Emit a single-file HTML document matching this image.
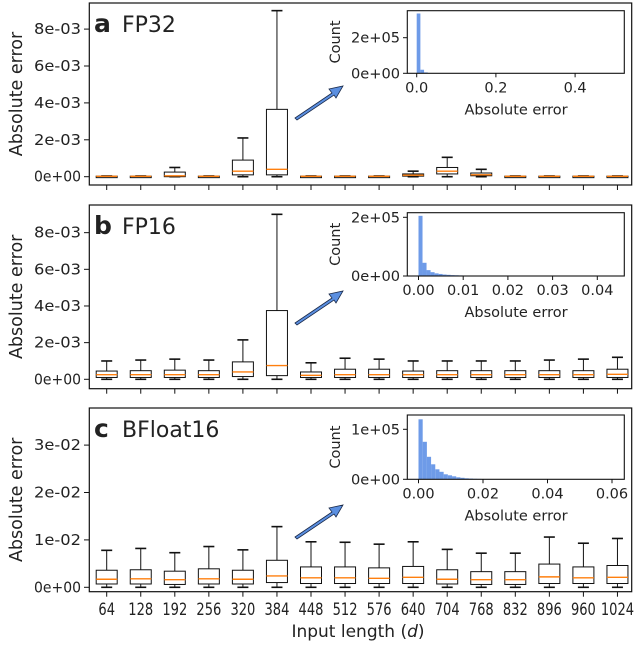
<!DOCTYPE html>
<html><head><meta charset="utf-8"><style>
html,body{margin:0;padding:0;background:#fff}
svg text{font-family:"DejaVu Sans","Liberation Sans",sans-serif;fill:#222}
</style></head><body>
<svg id="fig" width="640" height="642" xmlns="http://www.w3.org/2000/svg"></svg>
<script>
const categories=[64,128,192,256,320,384,448,512,576,640,704,768,832,896,960,1024];
// panel a (units 1e-3): q1, med, q3, hi
const aQ1=[0.01,0.01,0.0,0.01,0.1,0.1,0.01,0.01,0.01,0.03,0.15,0.05,0.01,0.01,0.01,0.01];
const aMed=[0.02,0.02,0.05,0.02,0.3,0.4,0.02,0.02,0.02,0.08,0.3,0.1,0.02,0.02,0.02,0.02];
const aQ3=[0.03,0.03,0.25,0.03,0.9,3.65,0.03,0.03,0.03,0.15,0.5,0.2,0.03,0.03,0.03,0.03];
const aHi=[0.04,0.04,0.5,0.04,2.1,9.0,0.04,0.04,0.04,0.3,1.05,0.4,0.04,0.04,0.04,0.04];
// panel b (units 1e-3)
const bQ1=[0.1,0.1,0.1,0.1,0.15,0.2,0.1,0.1,0.1,0.1,0.1,0.1,0.1,0.1,0.1,0.1];
const bMed=[0.25,0.25,0.25,0.25,0.4,0.75,0.22,0.25,0.25,0.25,0.25,0.25,0.25,0.25,0.25,0.27];
const bQ3=[0.45,0.47,0.5,0.47,0.95,3.75,0.4,0.55,0.55,0.45,0.47,0.47,0.47,0.47,0.47,0.55];
const bHi=[1.0,1.05,1.1,1.05,2.15,9.0,0.9,1.15,1.1,1.0,1.0,1.0,1.0,1.05,1.1,1.2];
// panel c (units 1e-2)
const cQ1=[0.07,0.07,0.06,0.07,0.07,0.1,0.08,0.08,0.08,0.08,0.07,0.06,0.06,0.08,0.08,0.08];
const cMed=[0.17,0.18,0.16,0.18,0.17,0.24,0.2,0.2,0.19,0.21,0.17,0.16,0.16,0.22,0.2,0.21];
const cQ3=[0.36,0.37,0.34,0.39,0.36,0.57,0.43,0.43,0.41,0.44,0.37,0.33,0.33,0.49,0.43,0.46];
const cHi=[0.78,0.82,0.73,0.86,0.79,1.28,0.96,0.95,0.91,0.96,0.8,0.72,0.72,1.06,0.93,1.03];
// histograms
const histACounts=[336000,20000,5000];
const histBCounts=[205000,45000,20000,13000,9000,7000,5000,4000,3000,2500,2000,1500,1200,1000,800];
const histCCounts=[120000,75000,45000,30000,20000,15000,10000,8000,6000,4000,3000,2000,1500,1000,800,600,400];
const yTicksA=["0e+00","2e-03","4e-03","6e-03","8e-03"];
const yTicksC=["0e+00","1e-02","2e-02","3e-02"];

const svg=document.getElementById('fig');
const NS='http://www.w3.org/2000/svg';
function mk(tag,attrs,parent){const e=document.createElementNS(NS,tag);for(const k in attrs)e.setAttribute(k,attrs[k]);(parent||svg).appendChild(e);return e;}
function txt(s,attrs,parent){const e=mk('text',attrs,parent);e.textContent=s;return e;}

const FL=89.3,FR=631.7;
const x0=106.7,dx=34.05;
function xPos(i){return x0+i*dx;}

function panel(p){
  const g=mk('g',{});
  
  
  const y=v=>p.y0-v*p.ppu;
  const fr=mk('rect',{x:FL,y:p.top,width:FR-FL,height:p.bot-p.top,fill:'none',stroke:'#111','stroke-width':1.2},g);
  
  p.ticks.forEach((t,i)=>{
    const yy=y(i*p.step);
    mk('line',{x1:84,x2:FL,y1:yy,y2:yy,stroke:'#111'},g);
    const tl=txt(t,{x:81,y:yy+5,'text-anchor':'end','font-size':15,textLength:47,lengthAdjust:'spacingAndGlyphs'},g);
    
  });
  const yl=txt('Absolute error',{x:0,y:0,'font-size':17.5,'text-anchor':'middle',transform:`translate(22,${(p.top+p.bot)/2}) rotate(-90)`},g);
  
  categories.forEach((c,i)=>{
    mk('line',{x1:xPos(i),x2:xPos(i),y1:p.bot,y2:p.bot+5,stroke:'#111'},g);
  });
  categories.forEach((c,i)=>{
    const cx=xPos(i);
    const bg=mk('g',{},g);
    
    const lo=0;
    mk('line',{x1:cx,x2:cx,y1:y(p.q3[i]),y2:y(p.hi[i]),stroke:'#111','stroke-width':1},bg);
    mk('line',{x1:cx,x2:cx,y1:y(p.q1[i]),y2:y(lo),stroke:'#111','stroke-width':1},bg);
    mk('line',{x1:cx-5.5,x2:cx+5.5,y1:y(p.hi[i]),y2:y(p.hi[i]),stroke:'#111','stroke-width':1.6},bg);
    mk('line',{x1:cx-5.5,x2:cx+5.5,y1:y(lo),y2:y(lo),stroke:'#111','stroke-width':1.6},bg);
    const t=y(p.q3[i]),b=y(p.q1[i]);
    mk('rect',{x:cx-10.5,y:t,width:21,height:Math.max(b-t,1.5),fill:'#fff',stroke:'#111','stroke-width':1},bg);
    mk('line',{x1:cx-10.5,x2:cx+10.5,y1:y(p.med[i]),y2:y(p.med[i]),stroke:'#ff7f0e','stroke-width':1.4},bg);
  });
  const tt=txt(p.letter,{x:94,y:p.top+29,'font-size':25,'font-weight':'bold'},g);
  
  const tn=txt(p.name,{x:122,y:p.top+29,'font-size':22},g);
  
  const ay=p.arrowY;
  const ar=mk('path',{d:`M295,${ay} L332,${ay-25} L329,${ay-29} L343,${ay-32} L336,${ay-20} L334,${ay-23} L297,${ay+2} Z`,fill:'#5b8fe0',stroke:'#1a2a4a','stroke-width':0.8},g);
  
  const ig=mk('g',{},g);
  
  const hx=v=>p.hx0+v*p.hxs;
  const hy=v=>p.ib-v*p.hys;
  p.hist.forEach((cnt,k)=>{
    const b=mk('rect',{x:hx(k*p.bw),y:hy(cnt),width:p.bw*p.hxs,height:cnt*p.hys,fill:'#6e9be8'},ig);
    
  });
  mk('rect',{x:407.3,y:p.it,width:217,height:p.ib-p.it,fill:'none',stroke:'#111','stroke-width':1.1},ig);
  p.hticks.forEach((t,k)=>{
    const xx=hx(p.hstep*k);
    mk('line',{x1:xx,x2:xx,y1:p.ib,y2:p.ib+4,stroke:'#111'},ig);
    txt(t,{x:xx,y:p.ib+19,'text-anchor':'middle','font-size':14.5},ig);
  });
  p.cticks.forEach(ct=>{
    const yy=hy(ct[0]);
    mk('line',{x1:403,x2:407.3,y1:yy,y2:yy,stroke:'#111'},ig);
    txt(ct[1],{x:400,y:yy+5,'text-anchor':'end','font-size':14.5,textLength:49,lengthAdjust:'spacingAndGlyphs'},ig);
  });
  txt('Count',{x:0,y:0,'font-size':14.5,'text-anchor':'middle',transform:`translate(340,${(p.it+p.ib)/2}) rotate(-90)`},ig);
  txt('Absolute error',{x:516,y:p.ib+41,'font-size':14.5,'text-anchor':'middle'},ig);
}

panel({id:'a',letter:'a',name:'FP32',top:3,bot:185,y0:176.7,ppu:18.45,step:2,ticks:yTicksA,
  q1:aQ1,med:aMed,q3:aQ3,hi:aHi,arrowY:118,
  it:10.7,ib:73.3,hx0:416.7,hxs:396,bw:0.0093,hys:35.6/200000,hist:histACounts,
  hticks:['0.0','0.2','0.4'],hstep:0.2,cticks:[[0,'0e+00'],[200000,'2e+05']]});
panel({id:'b',letter:'b',name:'FP16',top:205,bot:388.7,y0:379.3,ppu:18.33,step:2,ticks:yTicksA,
  q1:bQ1,med:bMed,q3:bQ3,hi:bHi,arrowY:323,
  it:212.7,ib:276,hx0:418.5,hxs:4470,bw:0.0009,hys:58.7/200000,hist:histBCounts,
  hticks:['0.00','0.01','0.02','0.03','0.04'],hstep:0.01,cticks:[[0,'0e+00'],[200000,'2e+05']]});
panel({id:'c',letter:'c',name:'BFloat16',top:408,bot:591.7,y0:587.3,ppu:47.4,step:1,ticks:yTicksC,
  q1:cQ1,med:cMed,q3:cQ3,hi:cHi,arrowY:537,
  it:415,ib:479.3,hx0:418.5,hxs:3225,bw:0.0013,hys:50/100000,hist:histCCounts,
  hticks:['0.00','0.02','0.04','0.06'],hstep:0.02,cticks:[[0,'0e+00'],[100000,'1e+05']]});

categories.forEach((c,i)=>{
  const s=String(c);
  const t=txt(s,{x:xPos(i),y:615,'text-anchor':'middle','font-size':17,textLength:s.length*8.3,lengthAdjust:'spacingAndGlyphs'});
  
  
});
const xl=mk('text',{x:358,y:637,'text-anchor':'middle','font-size':17});
xl.innerHTML='Input length (<tspan font-style="italic">d</tspan>)';


</script>
</body></html>
